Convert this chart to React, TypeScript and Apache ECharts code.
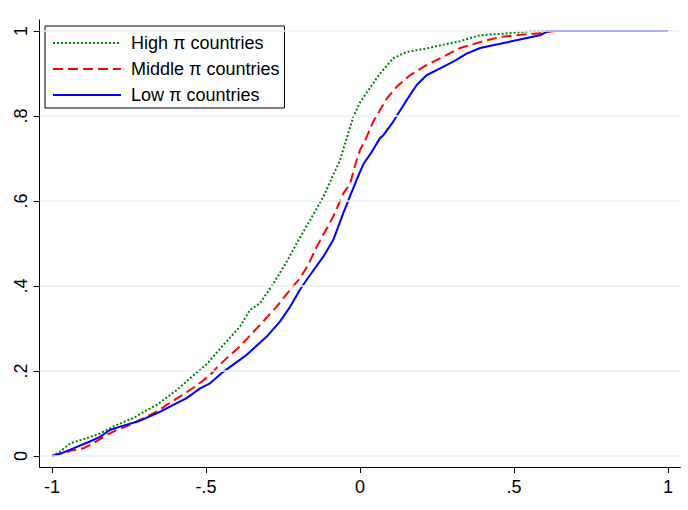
import React, { useEffect, useRef } from "react";
import * as echarts from "echarts";

const seriesNames = ["High π countries", "Middle π countries", "Low π countries"];

const highX = [-1, -0.974, -0.94, -0.887, -0.844, -0.79, -0.736, -0.692, -0.66, -0.595, -0.545, -0.495, -0.444, -0.39, -0.357, -0.325, -0.281, -0.238, -0.206, -0.162, -0.119, -0.065, -0.022, 0, 0.054, 0.065, 0.108, 0.152, 0.216, 0.271, 0.325, 0.368, 0.39, 0.487, 0.56, 1];
const highY = [0, 0.01, 0.03, 0.042, 0.053, 0.073, 0.089, 0.108, 0.12, 0.155, 0.187, 0.218, 0.261, 0.304, 0.344, 0.359, 0.406, 0.457, 0.5, 0.555, 0.61, 0.696, 0.798, 0.832, 0.889, 0.9, 0.936, 0.951, 0.959, 0.968, 0.976, 0.986, 0.99, 0.995, 1, 1];

const midX = [-1, -0.94, -0.898, -0.866, -0.823, -0.79, -0.747, -0.703, -0.66, -0.628, -0.584, -0.536, -0.487, -0.465, -0.43, -0.39, -0.325, -0.271, -0.227, -0.195, -0.168, -0.141, -0.087, -0.054, -0.032, -0.011, 0, 0.022, 0.043, 0.065, 0.087, 0.119, 0.162, 0.216, 0.271, 0.325, 0.39, 0.455, 0.519, 0.584, 0.63, 1];
const midY = [0, 0.012, 0.018, 0.03, 0.049, 0.061, 0.073, 0.089, 0.104, 0.12, 0.14, 0.163, 0.19, 0.208, 0.232, 0.258, 0.308, 0.351, 0.391, 0.418, 0.45, 0.492, 0.563, 0.618, 0.641, 0.696, 0.72, 0.751, 0.787, 0.814, 0.841, 0.869, 0.896, 0.92, 0.94, 0.96, 0.974, 0.986, 0.991, 0.995, 1, 1];

const lowX = [-1, -0.974, -0.931, -0.877, -0.844, -0.812, -0.779, -0.714, -0.649, -0.606, -0.563, -0.519, -0.487, -0.444, -0.368, -0.303, -0.26, -0.227, -0.195, -0.168, -0.119, -0.087, -0.054, -0.032, -0.011, 0.011, 0.035, 0.065, 0.076, 0.108, 0.152, 0.184, 0.216, 0.26, 0.303, 0.346, 0.39, 0.455, 0.519, 0.584, 0.61, 1];
const lowY = [0, 0.005, 0.018, 0.034, 0.045, 0.061, 0.069, 0.083, 0.104, 0.12, 0.136, 0.159, 0.171, 0.198, 0.238, 0.281, 0.316, 0.351, 0.391, 0.42, 0.469, 0.508, 0.572, 0.612, 0.65, 0.687, 0.712, 0.748, 0.755, 0.787, 0.838, 0.873, 0.896, 0.912, 0.928, 0.947, 0.96, 0.97, 0.98, 0.99, 1, 1];

const xTicks = [-1, -0.5, 0, 0.5, 1];
const yTicks = [0, 0.2, 0.4, 0.6, 0.8, 1];

const fmt = (v: number) => String(v).replace(/^(-?)0\./, "$1.");
const zip = (xs: number[], ys: number[]) => xs.map((x, i) => [x, ys[i]]);

export default function App() {
  const ref = useRef<HTMLDivElement>(null);
  useEffect(() => {
    if (!ref.current) return;
    const chart = echarts.init(ref.current, null, { renderer: "svg" });
    const font = "'Liberation Sans', Arial, sans-serif";
    chart.setOption({
      animation: false,
      backgroundColor: "#ffffff",
      textStyle: { fontFamily: font },
      grid: { left: 39.7, right: 7.7, top: 20, bottom: 43, containLabel: false },
      legend: {
        data: seriesNames,
        orient: "vertical",
        left: 45,
        top: 26,
        padding: [8, 5, 4, 7],
        itemWidth: 68,
        itemHeight: 14,
        itemGap: 8,
        borderColor: "#000",
        borderWidth: 1,
        backgroundColor: "#fff",
        itemStyle: { opacity: 0 },
        textStyle: { fontSize: 18, color: "#000", fontFamily: font, padding: [0, 0, 0, 5] },
      },
      xAxis: {
        type: "value",
        min: -1.04,
        max: 1.04,
        axisLine: { show: true, onZero: false, lineStyle: { color: "#000", width: 1 } },
        axisTick: { show: true, customValues: xTicks, length: 6, lineStyle: { color: "#000" } },
        axisLabel: { customValues: xTicks, formatter: (v: number) => fmt(v), fontSize: 18, color: "#000", margin: 11, fontFamily: font },
        splitLine: { show: false },
      },
      yAxis: {
        type: "value",
        min: -0.026,
        max: 1.026,
        axisLine: { show: true, onZero: false, lineStyle: { color: "#000", width: 1 } },
        axisTick: { show: true, customValues: yTicks, length: 6, lineStyle: { color: "#000" } },
        axisLabel: { customValues: yTicks, formatter: (v: number) => fmt(v), fontSize: 18, color: "#000", rotate: 90, margin: 10, fontFamily: font },
        splitLine: { show: false },
      },
      series: [
        {
          type: "line",
          name: "grid",
          data: [],
          z: 1,
          silent: true,
          markLine: {
            silent: true,
            symbol: "none",
            label: { show: false },
            lineStyle: { color: "#e8f0f2", type: "solid", width: 1.5 },
            data: yTicks.map((v) => ({ yAxis: v })),
          },
        },
        {
          type: "line",
          name: seriesNames[0],
          data: zip(highX, highY),
          symbol: "none",
          z: 3,
          color: "#008000",
          lineStyle: { color: "#008000", width: 2, type: [2, 2] },
        },
        {
          type: "line",
          name: seriesNames[1],
          data: zip(midX, midY),
          symbol: "none",
          z: 3,
          color: "#ff0000",
          lineStyle: { color: "#ff0000", width: 2, type: [10, 5] },
        },
        {
          type: "line",
          name: seriesNames[2],
          data: zip(lowX, lowY),
          symbol: "none",
          z: 3,
          color: "#0000ff",
          lineStyle: { color: "#0000ff", width: 2, type: "solid" },
        },
      ],
    });
    return () => chart.dispose();
  }, []);
  return <div ref={ref} style={{ position: "fixed", left: 0, top: 0, width: 688, height: 510 }} />;
}
